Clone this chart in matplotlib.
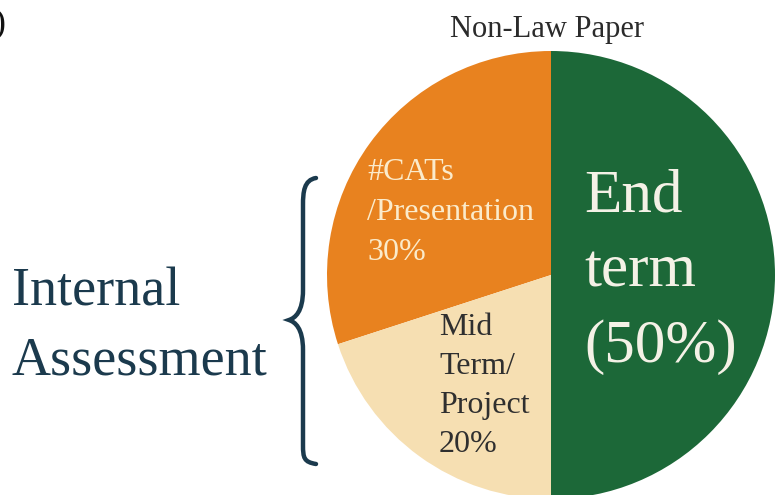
import matplotlib.pyplot as plt
from matplotlib.path import Path
from matplotlib.patches import PathPatch

plt.rcParams['font.family'] = ['Liberation Serif', 'DejaVu Serif']

W, H = 778, 495

# pie data
shares = [30, 20, 50]
names = ['#CATs\n/Presentation\n30%', 'Mid\nTerm/\nProject\n20%', 'End\nterm\n(50%)']
colors = ['#E8821F', '#F6DFB2', '#1C6838']
title = 'Non-Law Paper'
side_label = 'Internal\nAssessment'

fig = plt.figure(figsize=(W / 100, H / 100), dpi=100)
ax = fig.add_axes([0, 0, 1, 1])

def Y(y):
    return H - y

ax.pie(shares, colors=colors, startangle=90, counterclock=True,
       center=(551, Y(275)), radius=224,
       wedgeprops=dict(linewidth=0))
ax.set_xlim(0, W)
ax.set_ylim(0, H)
ax.set_aspect('equal')
ax.axis('off')

ax.text(547, Y(30), title, ha='center', va='center', fontsize=22, color='#2b2b2b')

ax.text(367, Y(213), names[0], ha='left', va='center', fontsize=23,
        color='#FBEBCB', linespacing=1.5)
ax.text(439, Y(386), names[1], ha='left', va='center', fontsize=23,
        color='#2f2f2f', linespacing=1.45)
ax.text(584, Y(272), names[2], ha='left', va='center', fontsize=44,
        color='#F4F1E6', linespacing=1.45)

ax.text(12, Y(327), side_label, ha='left', va='center', fontsize=39,
        color='#1B3A4D', linespacing=1.48)

# curly brace
pts = [
    (316, 178), (304, 180), (303, 192), (303, 205),
    (303, 290),
    (303, 312), (295, 318), (289, 320),
    (295, 322), (303, 328), (303, 350),
    (303, 445),
    (303, 458), (304, 462), (316, 464),
]
codes = [Path.MOVETO, Path.CURVE4, Path.CURVE4, Path.CURVE4,
         Path.LINETO,
         Path.CURVE4, Path.CURVE4, Path.CURVE4,
         Path.CURVE4, Path.CURVE4, Path.CURVE4,
         Path.LINETO,
         Path.CURVE4, Path.CURVE4, Path.CURVE4]
brace = Path([(x, Y(y)) for x, y in pts], codes)
ax.add_patch(PathPatch(brace, fill=False, edgecolor='#1B3A4D', linewidth=3.2,
                       capstyle='round'))

# clipped panel letter at the top-left corner
ax.text(-24, Y(25), 'b)', ha='left', va='center', fontsize=26, color='#111111')

fig.savefig('out.png', dpi=100)
